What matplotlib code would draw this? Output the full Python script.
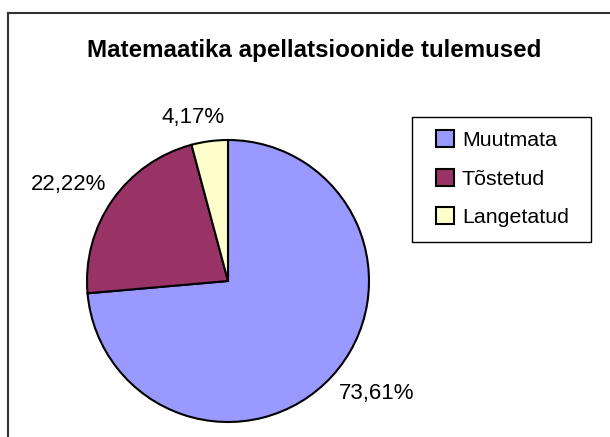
import numpy as np
import matplotlib
matplotlib.use("Agg")
import matplotlib.pyplot as plt
from matplotlib.lines import Line2D
from matplotlib.patches import Rectangle

plt.rcParams['font.family'] = ['Liberation Sans', 'DejaVu Sans']

title = "Matemaatika apellatsioonide tulemused"
categories = ["Muutmata", "Tõstetud", "Langetatud"]
values = [73.61, 22.22, 4.17]
colors = ["#9999FF", "#993366", "#FFFFCC"]

W, H = 610, 437
fig = plt.figure(figsize=(W / 100, H / 100), dpi=100)

# border of the chart area (only top and left visible)
fig.add_artist(Line2D([7.5 / W, 7.5 / W], [0.0, 1 - 13 / H], color="#333333", lw=1.5))
fig.add_artist(Line2D([7.5 / W, 1.0], [1 - 13 / H, 1 - 13 / H], color="#333333", lw=1.5))

fig.text(314 / W, 1 - 57 / H, title, ha="center", va="baseline",
         fontsize=17.4, fontweight="bold")

# pie: centre (228, 281) px, radius 141 px
cx, cy, r = 228, 281, 141
ax = fig.add_axes([(cx - r) / W, 1 - (cy + r) / H, 2 * r / W, 2 * r / H])
wedges, _ = ax.pie(values, colors=colors, startangle=90, counterclock=False,
                   wedgeprops=dict(edgecolor="black", linewidth=1.5))
ax.set_xlim(-1, 1)
ax.set_ylim(-1, 1)
ax.set_aspect("equal")
ax.axis("off")

# data labels
dists = [1.07, 1.09, 1.13]
nudge = [(0, 0), (3, 2), (-10, 0)]
for w, v, d, (ox, oy) in zip(wedges, values, dists, nudge):
    ang = np.deg2rad((w.theta1 + w.theta2) / 2)
    x, y = d * np.cos(ang), d * np.sin(ang)
    if abs(np.cos(ang)) < 0.3:
        ha = "center"
    else:
        ha = "left" if x > 0 else "right"
    va = "top" if y < 0 else "baseline"
    ax.annotate(f"{v:.2f}%".replace(".", ","), (x, y), xytext=(ox, oy),
                textcoords="offset points", ha=ha, va=va, fontsize=16,
                annotation_clip=False)

# legend box
fig.add_artist(Rectangle((412 / W, 1 - 242 / H), 179 / W, 125 / H, fill=False,
                         edgecolor="black", linewidth=1.0))
leg = fig.legend(wedges, categories, loc="upper left",
                 bbox_to_anchor=(436 / W, 1 - 130 / H),
                 frameon=False, fontsize=15.4, labelspacing=0.88,
                 handlelength=0.84, handleheight=0.84, handletextpad=0.37,
                 borderpad=0, borderaxespad=0)

fig.savefig("out.png", dpi=100)
